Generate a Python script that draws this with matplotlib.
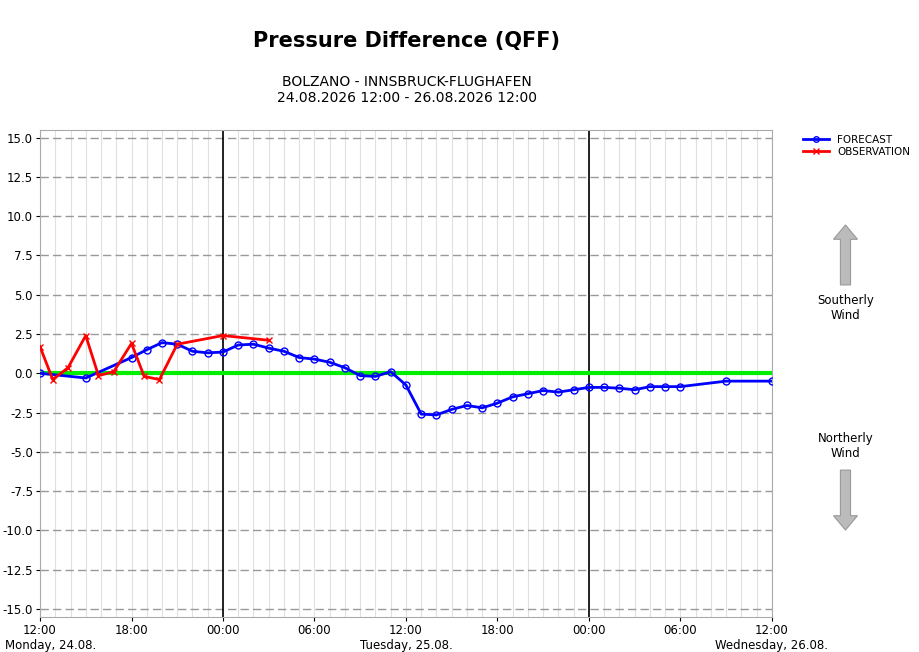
import matplotlib
matplotlib.use("Agg")
import matplotlib.pyplot as plt
from matplotlib.patches import FancyArrow

fc_h = [0,3,6,7,8,9,10,11,12,13,14,15,16,17,18,19,20,21,22,23,24,25,26,27,28,29,30,31,32,33,34,35,36,37,38,39,40,41,42,45,48]
fc_v = [0.0,-0.3,1.0,1.5,1.95,1.85,1.4,1.3,1.35,1.8,1.85,1.6,1.4,1.0,0.9,0.7,0.35,-0.15,-0.2,0.1,-0.75,-2.6,-2.65,-2.3,-2.05,-2.2,-1.9,-1.5,-1.3,-1.1,-1.2,-1.05,-0.9,-0.9,-0.95,-1.05,-0.85,-0.85,-0.85,-0.5,-0.5]
ob_h = [0,50/60,110/60,3,230/60,290/60,6,410/60,470/60,9,12,15]
ob_v = [1.7,-0.4,0.35,2.4,-0.15,0.1,1.9,-0.2,-0.4,1.85,2.4,2.1]
xt = [0,6,12,18,24,30,36,42,48]
xtl = ["12:00","18:00","00:00","06:00","12:00","18:00","00:00","06:00","12:00"]
yt = [15.0,12.5,10.0,7.5,5.0,2.5,0.0,-2.5,-5.0,-7.5,-10.0,-12.5,-15.0]
days = [(0,"Monday, 24.08."),(24,"Tuesday, 25.08."),(48,"Wednesday, 26.08.")]

fig = plt.figure(figsize=(9.2,6.52), dpi=100)
ax = fig.add_axes([0.0435,0.054,0.7955,0.747])
ax.set_xlim(0,48); ax.set_ylim(-15.5,15.5)
for h in range(49):
    ax.axvline(h, color="#e0e0e0", lw=0.8, zorder=0)
for y in yt:
    ax.axhline(y, color="#999999", lw=1, ls=(0,(6,3)), zorder=1)
for h in (12,36):
    ax.axvline(h, color="black", lw=1.2, zorder=2)
ax.axhline(0, color="#00ee00", lw=3, zorder=2)
ax.plot(fc_h, fc_v, color="blue", lw=2, marker="o", ms=5, mfc="none", mec="blue", label="FORECAST", zorder=4)
ax.plot(ob_h, ob_v, color="red", lw=2, marker="x", ms=5, label="OBSERVATION", zorder=5)
ax.set_xticks(xt); ax.set_xticklabels(xtl, fontsize=8.5)
ax.set_yticks(yt); ax.set_yticklabels([f"{v:.1f}" for v in yt], fontsize=8.5)
ax.tick_params(length=3, pad=2)
for s in ax.spines.values(): s.set_color("#aaaaaa")
for h,t in days:
    x = ax.transData.transform((h,0))[0]/920
    x = min(max(x,0.055),0.90)
    fig.text(x, 0.0, t, ha="center", va="bottom", fontsize=8.5)
ax.legend(loc="upper left", bbox_to_anchor=(1.035,1.0), frameon=False, fontsize=7.5, handlelength=2.5, borderpad=0, labelspacing=0.2, markerscale=0.8)
fig.text(0.442,0.928,"Pressure Difference (QFF)", ha="center", fontsize=15, fontweight="bold")
fig.text(0.442,0.843,"BOLZANO - INNSBRUCK-FLUGHAFEN\n24.08.2026 12:00 - 26.08.2026 12:00", ha="center", fontsize=10, linespacing=1.2)
fig.text(0.919,0.527,"Southerly\nWind", ha="center", va="center", fontsize=8.5)
fig.text(0.919,0.316,"Northerly\nWind", ha="center", va="center", fontsize=8.5)
fig.patches.append(FancyArrow(0.919,0.563,0,0.07, width=0.011, head_width=0.026, head_length=0.022, transform=fig.transFigure, fc="#bbbbbb", ec="#999999", lw=0.8))
fig.patches.append(FancyArrow(0.919,0.279,0,-0.07, width=0.011, head_width=0.026, head_length=0.022, transform=fig.transFigure, fc="#bbbbbb", ec="#999999", lw=0.8))
fig.savefig("out.png", dpi=100)
